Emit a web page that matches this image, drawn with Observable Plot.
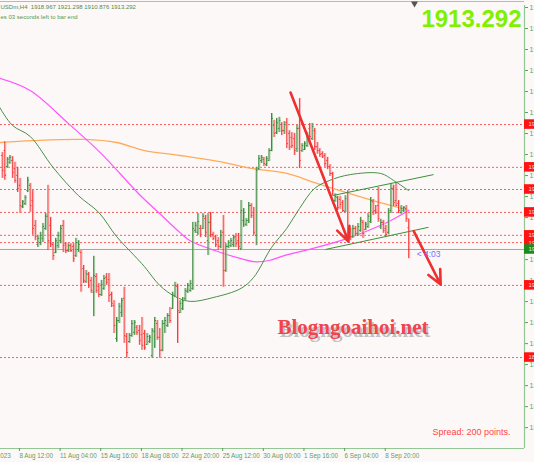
<!DOCTYPE html>
<html><head><meta charset="utf-8">
<script src="https://cdn.jsdelivr.net/npm/d3@7"></script>
<script src="https://cdn.jsdelivr.net/npm/@observablehq/plot@0.6"></script>
<style>
html,body{margin:0;padding:0;background:#fdf8f8;overflow:hidden}
#chart{width:534px;height:462px}
</style></head><body><div id="chart"></div>
<script>
// ---- OHLC bars (H4), bar index 0 = 4 Aug 2023 00:00 ----
const firstBar = 10;
const opens = [
1937.9,1939.2,1935.0,1936.1,1936.6,1934.5,1932.7,1930.1,1924.5,1925.3,
1928.7,1930.1,1926.1,1919.6,1914.6,1915.1,1916.2,1918.8,1922.0,1919.6,
1914.6,1912.5,1914.3,1915.6,1919.6,1914.8,1913.0,1914.3,1914.1,1911.7,
1913.3,1912.5,1908.3,1904.9,1906.7,1905.2,1902.1,1906.2,1903.6,1901.5,
1903.1,1906.0,1905.4,1901.5,1898.6,1890.0,1894.7,1896.8,1900.5,1890.5,
1889.2,1890.8,1891.6,1892.9,1892.1,1891.0,1891.3,1888.4,1889.2,1885.5,
1891.8,1893.9,1890.3,1887.0,1893.9,1893.4,1896.0,1897.8,1901.3,1903.6,
1896.8,1897.8,1900.5,1902.3,1902.6,1903.1,1918.3,1917.8,1918.8,1918.8,
1921.4,1915.6,1920.4,1917.2,1916.7,1915.6,1914.1,1917.8,1907.8,1914.1,
1914.3,1914.6,1916.7,1915.6,1913.5,1920.9,1919.9,1920.9,1924.8,1923.0,
1917.0,1934.5,1936.6,1936.9,1935.5,1936.6,1939.2,1945.8,1943.9,1945.0,
1946.0,1944.4,1946.5,1943.7,1942.6,1942.3,1939.7,1945.0,1939.2,1939.5,
1940.5,1945.0,1942.3,1944.4,1940.2,1939.2,1938.4,1937.9,1936.6,1935.0,
1933.2,1926.1,1926.9,1926.4,1925.6,1923.3,1928.2,1917.8,1916.7,1918.8,
1917.5,1918.3,1920.4,1918.5,1919.3,1920.6,1925.8,1923.5,1924.8,1919.1,
1920.4,1918.8,1917.8,1923.5,1929.3,1926.1,1925.3,1923.0,1923.5,1924.0,
1918.967];
const highs = [
1938.7,1941.5,1937.4,1937.9,1937.6,1936.1,1934.8,1931.9,1926.1,1927.4,
1932.2,1930.6,1928.7,1920.9,1917.0,1917.8,1920.1,1922.7,1930.1,1921.7,
1914.8,1916.2,1917.8,1919.6,1920.9,1915.1,1914.8,1914.8,1914.8,1916.2,
1915.6,1913.0,1909.1,1907.8,1907.3,1906.0,1911.5,1907.0,1904.4,1905.2,
1906.5,1907.0,1907.0,1902.1,1899.9,1895.5,1899.2,1900.5,1903.4,1891.3,
1891.3,1894.7,1894.7,1893.4,1893.4,1895.5,1892.1,1891.3,1890.8,1892.6,
1895.5,1894.7,1892.6,1894.7,1895.5,1896.5,1898.1,1902.1,1904.7,1904.2,
1899.9,1900.7,1903.1,1904.4,1905.2,1920.4,1920.4,1922.7,1919.6,1922.7,
1922.2,1922.7,1923.0,1917.8,1917.0,1916.4,1918.3,1922.2,1914.8,1915.6,
1916.2,1917.0,1917.5,1917.5,1926.1,1924.0,1921.4,1925.6,1925.3,1924.3,
1934.8,1937.9,1937.9,1937.4,1937.6,1939.7,1948.9,1947.1,1947.6,1947.9,
1946.5,1946.8,1947.6,1944.4,1943.9,1943.7,1945.8,1952.8,1941.0,1941.5,
1943.9,1946.3,1946.3,1945.0,1941.3,1939.7,1938.9,1938.4,1937.4,1935.5,
1933.5,1927.9,1927.2,1927.2,1926.1,1927.4,1928.7,1918.8,1919.6,1919.3,
1920.1,1921.7,1920.9,1920.4,1922.7,1926.9,1926.4,1924.8,1929.5,1921.2,
1920.9,1919.6,1924.0,1930.6,1930.1,1930.6,1926.1,1924.8,1924.5,1924.8,
1921.298];
const lows = [
1931.9,1931.4,1934.5,1935.6,1931.9,1930.6,1928.2,1922.7,1924.0,1924.8,
1928.2,1923.0,1917.0,1915.6,1913.8,1914.3,1915.1,1918.3,1913.0,1913.8,
1910.4,1912.2,1913.5,1914.8,1912.5,1912.2,1912.5,1912.5,1909.9,1911.2,
1912.5,1902.1,1904.4,1904.4,1903.1,1901.8,1895.7,1901.8,1900.7,1901.0,
1902.6,1903.9,1899.4,1898.1,1891.3,1889.0,1893.9,1895.5,1888.7,1884.8,
1888.7,1890.3,1890.8,1890.8,1888.2,1886.9,1886.9,1888.2,1888.7,1884.8,
1887.4,1889.5,1884.8,1886.5,1891.3,1892.9,1893.9,1897.6,1900.7,1888.7,
1896.5,1897.3,1899.9,1901.8,1902.1,1902.6,1917.5,1917.0,1916.4,1918.5,
1916.4,1911.7,1916.4,1915.6,1913.8,1913.0,1913.5,1903.4,1907.3,1913.5,
1913.8,1913.8,1913.8,1913.0,1913.0,1919.1,1919.3,1920.1,1921.4,1917.0,
1914.3,1934.0,1935.8,1935.0,1935.0,1936.3,1938.9,1942.6,1943.4,1943.9,
1943.1,1943.4,1939.7,1939.2,1939.7,1937.9,1938.7,1934.5,1938.7,1939.2,
1940.0,1941.8,1941.8,1939.2,1938.2,1937.4,1937.1,1934.8,1934.2,1932.4,
1927.4,1925.6,1923.5,1923.8,1923.0,1923.0,1915.1,1915.6,1916.2,1916.7,
1916.7,1917.8,1916.2,1918.3,1918.8,1920.1,1922.2,1922.5,1920.4,1918.5,
1917.5,1916.4,1917.2,1922.7,1924.5,1924.5,1922.7,1922.5,1923.0,1920.4,
1910.876];
const closes = [
1934.0,1932.7,1936.9,1937.4,1933.5,1931.4,1929.3,1924.8,1925.8,1926.9,
1931.4,1924.8,1918.8,1916.7,1916.2,1917.0,1919.3,1922.0,1915.6,1914.8,
1911.7,1915.6,1917.0,1918.8,1914.3,1913.0,1914.3,1913.0,1910.9,1915.1,
1914.6,1903.9,1905.2,1907.0,1903.9,1902.6,1906.5,1902.6,1901.5,1904.1,
1905.7,1904.7,1901.3,1899.2,1893.4,1894.7,1898.4,1899.9,1890.8,1886.3,
1890.8,1893.9,1894.2,1891.6,1889.5,1888.2,1887.6,1890.5,1890.3,1892.1,
1894.7,1890.3,1886.9,1893.9,1894.7,1896.0,1894.7,1901.3,1903.9,1897.3,
1899.2,1899.9,1902.6,1903.9,1904.4,1918.8,1919.6,1920.6,1917.2,1922.0,
1917.8,1920.4,1917.2,1916.2,1914.6,1914.1,1917.0,1907.8,1914.1,1915.1,
1915.6,1916.4,1914.8,1914.1,1923.5,1923.0,1920.9,1924.8,1922.2,1917.8,
1934.0,1937.1,1937.4,1935.8,1937.1,1939.2,1947.6,1943.7,1946.5,1947.1,
1944.4,1946.0,1941.0,1940.2,1940.5,1939.2,1945.0,1936.6,1940.5,1941.0,
1943.1,1942.9,1945.5,1940.2,1939.2,1938.2,1937.6,1935.8,1935.0,1933.2,
1928.7,1927.2,1924.3,1925.1,1923.5,1926.6,1916.2,1916.7,1918.8,1917.5,
1919.3,1920.9,1917.5,1919.9,1922.0,1926.1,1923.3,1923.0,1921.4,1920.4,
1918.3,1917.2,1923.0,1929.3,1925.6,1924.8,1923.5,1924.0,1924.3,1921.4,
1913.292];

// ---- moving averages (read points) ----
const pinkIdx = [9,21,36,49,64,72,80,84,96,104,109,115,121,132,146,156,163,170];
const pinkVal = [1958.1,1954.9,1946.3,1938.4,1927.7,1922.7,1917.7,1915.6,1912.5,1910.9,1910.1,1910.4,1911.7,1913.5,1916.2,1918.8,1920.9,1923.5];
const greenIdx = [9,14,21,30,40,48,55,62,66,72,78,84,93,104,109,116,122,127,133,139,147,159,164,170];
const greenVal = [1950.5,1945.8,1942.9,1934.8,1927.4,1923.0,1916.7,1911.7,1908.8,1903.9,1901.0,1899.7,1900.7,1903.1,1906.0,1913.8,1918.8,1924.0,1929.3,1931.4,1932.9,1933.2,1931.4,1928.7];
const orangeIdx = [9,22,42,55,66,80,97,108,122,133,143,156,166,170];
const orangeVal = [1941.3,1941.8,1942.1,1941.3,1939.2,1937.9,1936.1,1934.5,1933.2,1930.8,1928.7,1926.1,1924.3,1923.5];

// ---- levels & annotations ----
const levels = [1946.0,1934.8,1929.0,1923.0,1917.0,1915.1,1903.9,1885.0];
const currentPrice = 1913.292;
const arrowX1 = [123.5,172.0], arrowY1 = [1954.4,1918.1];
const arrowX2 = [146.3,182.6], arrowY2 = [1915.4,1904.1];
const chanX1 = [140.0,137.3], chanY1 = [1927.4,1913.3];
const chanX2 = [179.8,177.8], chanY2 = [1932.9,1919.1];

// ---- axes ----
const xTickIdx = [0,16,32,48,64,80,96,112,128,144,160];
const xTickLabels = ["4 Aug 2023","8 Aug 12:00","11 Aug 04:00","15 Aug 16:00","18 Aug 08:00","22 Aug 20:00","25 Aug 12:00","30 Aug 00:00","1 Sep 16:00","6 Sep 04:00","8 Sep 20:00"];
const yTicks = [1976.65,1971.15,1965.65,1960.15,1954.65,1949.15,1943.65,1938.15,1932.65,1927.15,1921.65,1916.15,1910.65,1905.15,1899.65,1894.15,1888.65,1883.15,1877.65,1872.15,1866.65];
const xDomain = [9.33, 215.6];
const yDomain = [1861.19, 1977.17];
const shiftMarker = [172.3];

const headerLine1 = "USDm,H4  1918.967 1921.298 1910.876 1913.292";
const headerLine2 = "es 03 seconds left to bar end";
const bigPrice = "1913.292";
const countdown = "< 4:03";
const watermark = "Blogngoaihoi.net";
const spreadText = "Spread: 200 points.";

// tables built from arrays
const bars = opens.map((o,k)=>({i:firstBar+k,o,h:highs[k],l:lows[k],c:closes[k]}));
const col = d => d.c >= d.o ? "#3b8a3b" : "#f23b3b";
const colLight = d => d.c >= d.o ? "#a3cca3" : "#ffb0b0";
const pts = (ix,v)=>ix.map((i,k)=>({i,p:v[k]}));
const arrows = arrowX1.map((x,k)=>({x1:x,y1:arrowY1[k],x2:arrowX2[k],y2:arrowY2[k]}));
const chans = chanX1.map((x,k)=>({x1:x,y1:chanY1[k],x2:chanX2[k],y2:chanY2[k]}));
const labelMap = new Map(xTickIdx.map((d,k)=>[d,xTickLabels[k]]));
const xR = xDomain[1];
const boxH = 1.25, boxW = 4.5;
const axisCol = "#5f9e5f";

const chart = Plot.plot({
  width:534, height:462, marginTop:5, marginBottom:14, marginLeft:0, marginRight:10,
  x:{domain:xDomain, axis:null},
  y:{domain:yDomain, axis:null},
  color:{type:"identity"},
  style:{background:"#fdf8f8", fontFamily:"'Liberation Sans', Arial, sans-serif", overflow:"hidden"},
  marks:[
    Plot.ruleY(levels,{stroke:"#ff5a5a", strokeDasharray:"2,2", strokeWidth:1}),
    Plot.ruleY([currentPrice],{stroke:"#a4a4b0", strokeWidth:1}),
    Plot.line(pts(orangeIdx,orangeVal),{x:"i",y:"p",stroke:"#ffab5a",strokeWidth:1.3,curve:"catmull-rom"}),
    Plot.line(pts(pinkIdx,pinkVal),{x:"i",y:"p",stroke:"#ff55ff",strokeWidth:1.2,curve:"catmull-rom"}),
    Plot.line(pts(greenIdx,greenVal),{x:"i",y:"p",stroke:"#4a8f4a",strokeWidth:1,curve:"catmull-rom"}),
    Plot.ruleX(bars,{x:"i",y1:"l",y2:"h",stroke:colLight,dx:1,strokeWidth:1}),
    Plot.ruleX(bars,{x:"i",y1:"l",y2:"h",stroke:col,strokeWidth:1}),
    Plot.link(bars,{x1:d=>d.i-0.5,x2:"i",y1:"o",y2:"o",stroke:col,strokeWidth:1}),
    Plot.link(bars,{x1:"i",x2:d=>d.i+0.5,y1:"c",y2:"c",stroke:col,strokeWidth:1}),
    Plot.link(chans,{x1:"x1",y1:"y1",x2:"x2",y2:"y2",stroke:"#3a913a",strokeWidth:1}),
    Plot.arrow(arrows,{x1:"x1",y1:"y1",x2:"x2",y2:"y2",stroke:"#ee3030",strokeWidth:2.6,headLength:9,headAngle:50}),
    Plot.ruleX([xR],{stroke:"#93c793",strokeWidth:1.2}),
    Plot.ruleY([yDomain[0]],{stroke:"#93c793",strokeWidth:1.2}),
    Plot.ruleY([yDomain[1]],{stroke:"#b8b8b8",strokeWidth:1,dy:-4}),
    Plot.dot(shiftMarker,{x:d=>d,frameAnchor:"top",symbol:"triangle",r:2.6,rotate:180,fill:"#555",dy:-2}),
    Plot.axisY(yTicks,{anchor:"right",tickSize:3,tickPadding:2,tickFormat:d=>d.toFixed(2),fontSize:7,color:axisCol,label:null}),
    Plot.rect(levels,{x1:xR,x2:xR+boxW,y1:d=>d-boxH,y2:d=>d+boxH,fill:"#ff1414"}),
    Plot.text(levels,{x:xR,y:d=>d,dx:4,text:d=>d.toFixed(2),textAnchor:"start",fill:"#ffd6d6",fontSize:6}),
    Plot.rect([currentPrice],{x1:xR,x2:xR+boxW,y1:d=>d-boxH,y2:d=>d+boxH,fill:"#1d8a1d"}),
    Plot.text([currentPrice],{x:xR,y:d=>d,dx:4,text:d=>d.toFixed(2),textAnchor:"start",fill:"#d8f0d8",fontSize:6}),
    Plot.axisX(xTickIdx,{anchor:"bottom",tickSize:3,tickPadding:2,tickFormat:d=>labelMap.get(d),textAnchor:"start",dx:2,fontSize:6.3,color:axisCol,label:null}),
    Plot.text([headerLine1],{text:d=>d,frameAnchor:"top-left",dx:0,dy:3.5,lineAnchor:"bottom",textAnchor:"start",fontSize:6,fill:"#4f8a4f"}),
    Plot.text([headerLine2],{text:d=>d,frameAnchor:"top-left",dx:0,dy:13,lineAnchor:"bottom",textAnchor:"start",fontSize:6,fill:"#4f9a4f"}),
    Plot.text([bigPrice],{text:d=>d,frameAnchor:"top-right",dx:-3,dy:21,lineAnchor:"bottom",textAnchor:"end",fontSize:24,fontWeight:"bold",fill:"#80f000"}),
    Plot.text([countdown],{text:d=>d,x:[bars[bars.length-1].i],y:[currentPrice],dx:8,dy:5,textAnchor:"start",fontSize:8.5,fill:"#7070ff"}),
    Plot.text([watermark],{text:d=>d,frameAnchor:"top-left",dx:279,dy:331,lineAnchor:"bottom",textAnchor:"start",fontSize:21,fontWeight:"bold",fontFamily:"'Liberation Serif', 'Times New Roman', serif",fill:"#888",fillOpacity:0.5,ariaLabel:"wm-shadow"}),
    Plot.text([watermark],{text:d=>d,frameAnchor:"top-left",dx:277,dy:328,lineAnchor:"bottom",textAnchor:"start",fontSize:21,fontWeight:"bold",fontFamily:"'Liberation Serif', 'Times New Roman', serif",fill:"#f0444e"}),
    Plot.text([spreadText],{text:d=>d,frameAnchor:"bottom-right",dx:-14,dy:-14,lineAnchor:"bottom",textAnchor:"end",fontSize:9,fill:"#ff4545"})
  ]
});
d3.select(chart).selectAll('g[aria-label="wm-shadow"]').style("filter","blur(1.6px)");
document.getElementById("chart").appendChild(chart);
</script></body></html>
